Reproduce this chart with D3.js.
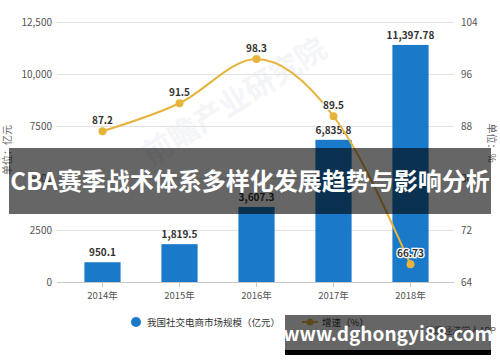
<!DOCTYPE html>
<html>
<head>
<meta charset="utf-8">
<script src="https://cdn.jsdelivr.net/npm/d3@7"></script>
<style>
  body { margin: 0; background: #fff; }
  svg { display: block; font-family: "Noto Sans CJK SC", "Noto Sans", sans-serif; }
</style>
</head>
<body>
<svg width="500" height="362"></svg>
<script>
const years = ["2014年", "2015年", "2016年", "2017年", "2018年"];
const sizeValues = [950.1, 1819.5, 3607.3, 6835.8, 11397.78];
const sizeLabels = ["950.1", "1,819.5", "3,607.3", "6,835.8", "11,397.78"];
const growthValues = [87.2, 91.5, 98.3, 89.5, 66.73];
const growthLabels = ["87.2", "91.5", "98.3", "89.5", "66.73"];
const leftTicks = [0, 2500, 5000, 7500, 10000, 12500];
const leftTickLabels = ["0", "2500", "5000", "7500", "10,000", "12,500"];
const rightTicks = [64, 72, 80, 88, 96, 104];

const svg = d3.select("svg");
const plotTop = 22, plotBottom = 282, plotLeft = 57, plotRight = 454;

const x = d3.scaleBand().domain(years).range([64, 449]).paddingInner(0.53).paddingOuter(0.265);
const yL = d3.scaleLinear().domain([0, 12500]).range([plotBottom, plotTop]);
const yR = d3.scaleLinear().domain([64, 104]).range([plotBottom, plotTop]);
const cx = (i) => x(years[i]) + x.bandwidth() / 2;

// faint watermark
svg.append("text")
  .attr("transform", "translate(240,110) rotate(-32)")
  .attr("text-anchor", "middle")
  .attr("font-size", 30).attr("font-weight", "bold")
  .attr("fill", "#f3f5f8")
  .text("前瞻产业研究院");

// grid
svg.append("g").selectAll("line").data(leftTicks.slice(1)).enter().append("line")
  .attr("x1", plotLeft).attr("x2", plotRight)
  .attr("y1", (d) => yL(d) + 0.5).attr("y2", (d) => yL(d) + 0.5)
  .attr("stroke", "#e2e2e2").attr("stroke-width", 1);

// axis line + ticks
svg.append("line").attr("x1", plotLeft).attr("x2", plotRight).attr("y1", plotBottom + 0.5).attr("y2", plotBottom + 0.5)
  .attr("stroke", "#c8c8c8");
svg.append("g").selectAll("line").data(years).enter().append("line")
  .attr("x1", (d, i) => cx(i)).attr("x2", (d, i) => cx(i))
  .attr("y1", plotBottom).attr("y2", plotBottom + 5).attr("stroke", "#c8c8c8");

// left tick labels
svg.append("g").selectAll("text").data(leftTicks).enter().append("text")
  .attr("x", 52).attr("y", (d) => yL(d) + 4)
  .attr("text-anchor", "end").attr("font-size", 10).attr("fill", "#555")
  .text((d, i) => leftTickLabels[i]);

// right tick labels
svg.append("g").selectAll("text").data(rightTicks).enter().append("text")
  .attr("x", 461).attr("y", (d) => yR(d) + 4)
  .attr("font-size", 10).attr("fill", "#555")
  .text((d) => d);

// x labels
svg.append("g").selectAll("text").data(years).enter().append("text")
  .attr("x", (d, i) => cx(i)).attr("y", 299)
  .attr("text-anchor", "middle").attr("font-size", 9.5).attr("fill", "#555")
  .text((d) => d);

// axis titles
svg.append("text").attr("transform", "translate(11,150) rotate(-90)")
  .attr("text-anchor", "middle").attr("font-size", 10).attr("fill", "#666")
  .text("单位：亿元");
svg.append("text").attr("transform", "translate(488,143) rotate(90)")
  .attr("text-anchor", "middle").attr("font-size", 10).attr("fill", "#666")
  .text("单位：%");

// bars
svg.append("g").selectAll("rect").data(sizeValues).enter().append("rect")
  .attr("x", (d, i) => x(years[i])).attr("width", x.bandwidth())
  .attr("y", (d) => yL(d)).attr("height", (d) => plotBottom - yL(d))
  .attr("fill", "#1a7ac9");

svg.append("g").selectAll("text").data(sizeValues).enter().append("text")
  .attr("x", (d, i) => cx(i)).attr("y", (d) => yL(d) - 6)
  .attr("text-anchor", "middle").attr("font-size", 10).attr("font-weight", "bold")
  .attr("fill", "#333")
  .text((d, i) => sizeLabels[i]);

// growth line
const line = d3.line()
  .x((d, i) => cx(i))
  .y((d) => yR(d))
  .curve(d3.curveMonotoneX);

svg.append("path").datum(growthValues).attr("d", line)
  .attr("fill", "none").attr("stroke", "#e6b43c").attr("stroke-width", 2);

svg.append("g").selectAll("circle").data(growthValues).enter().append("circle")
  .attr("cx", (d, i) => cx(i)).attr("cy", (d) => yR(d))
  .attr("r", 4).attr("fill", "#e6b43c");

svg.append("g").selectAll("text").data(growthValues).enter().append("text")
  .attr("x", (d, i) => cx(i)).attr("y", (d) => yR(d) - 7)
  .attr("text-anchor", "middle").attr("font-size", 10).attr("font-weight", "bold")
  .attr("fill", "#333").attr("stroke", "#fff").attr("stroke-width", 2.5)
  .attr("paint-order", "stroke")
  .text((d, i) => growthLabels[i]);

// legend
const lg = svg.append("g");
lg.append("circle").attr("cx", 136).attr("cy", 322).attr("r", 5).attr("fill", "#1a7ac9");
lg.append("text").attr("x", 147).attr("y", 326).attr("font-size", 9.5).attr("fill", "#333")
  .text("我国社交电商市场规模（亿元）");
lg.append("line").attr("x1", 302).attr("x2", 318).attr("y1", 322).attr("y2", 322)
  .attr("stroke", "#e6b43c").attr("stroke-width", 2);
lg.append("circle").attr("cx", 310).attr("cy", 322).attr("r", 3.5).attr("fill", "#e6b43c");
lg.append("text").attr("x", 322).attr("y", 326).attr("font-size", 9.5).attr("fill", "#333")
  .text("增速（%）");
svg.append("text").attr("x", 496).attr("y", 334).attr("text-anchor", "end")
  .attr("font-size", 9).attr("fill", "#666").text("前瞻经济学人APP");

// title banner
svg.append("rect").attr("x", 9).attr("y", 148).attr("width", 482).attr("height", 66)
  .attr("fill", "#000").attr("opacity", 0.6);
svg.append("text").attr("x", 250).attr("y", 190)
  .attr("text-anchor", "middle").attr("font-size", 24).attr("font-weight", "bold")
  .attr("fill", "#fff")
  .text("CBA赛季战术体系多样化发展趋势与影响分析");

// site banner
svg.append("rect").attr("x", 285).attr("y", 315).attr("width", 206).attr("height", 40)
  .attr("fill", "#000").attr("opacity", 0.6);
svg.append("rect").attr("x", 285).attr("y", 350).attr("width", 206).attr("height", 5)
  .attr("fill", "#000");
svg.append("text").attr("x", 388).attr("y", 341)
  .attr("text-anchor", "middle").attr("font-size", 19).attr("font-weight", "bold")
  .attr("fill", "#fff")
  .text("www.dghongyi88.com");
</script>
</body>
</html>
